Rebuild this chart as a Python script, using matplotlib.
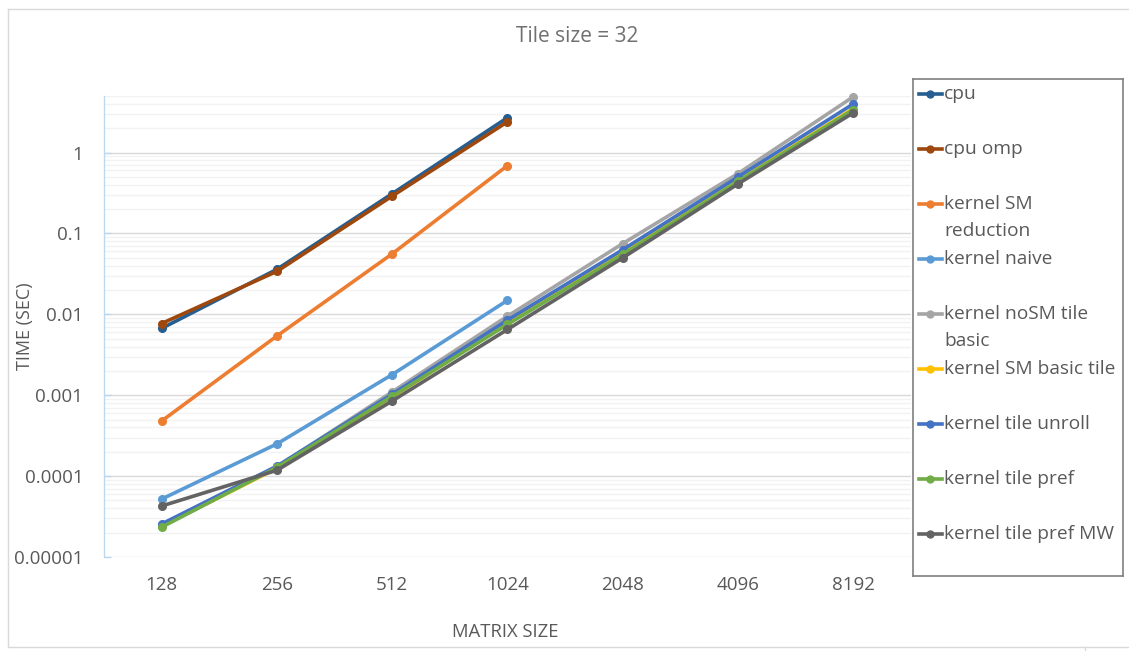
import matplotlib

matplotlib.use("Agg")
import matplotlib.pyplot as plt
from matplotlib.lines import Line2D

plt.rcParams["font.family"] = ["Open Sans", "DejaVu Sans"]

# timings in seconds per matrix size
sizes = ["128", "256", "512", "1024", "2048", "4096", "8192"]

cpu = [0.0067, 0.036, 0.31, 2.7]
cpu_omp = [0.0077, 0.034, 0.29, 2.4]
sm_reduction = [0.00048, 0.0054, 0.056, 0.69]
naive = [0.000052, 0.00025, 0.0018, 0.0149]
nosm_tile_basic = [0.000025, 0.00013, 0.0011, 0.0095, 0.075, 0.55, 4.9]
sm_basic_tile = [0.000024, 0.000125, 0.00095, 0.0078, 0.057, 0.45, 3.5]
tile_unroll = [0.0000256, 0.000133, 0.00103, 0.0085, 0.063, 0.50, 4.0]
tile_pref = [0.0000234, 0.000128, 0.00097, 0.0075, 0.055, 0.44, 3.4]
tile_pref_mw = [0.0000427, 0.000118, 0.00085, 0.0065, 0.050, 0.41, 3.1]

series = [
    ("cpu", cpu, "#255E91"),
    ("cpu omp", cpu_omp, "#9E480E"),
    ("kernel SM\nreduction", sm_reduction, "#ED7D31"),
    ("kernel naive", naive, "#5B9BD5"),
    ("kernel noSM tile\nbasic", nosm_tile_basic, "#A5A5A5"),
    ("kernel SM basic tile", sm_basic_tile, "#FFC000"),
    ("kernel tile unroll", tile_unroll, "#4472C4"),
    ("kernel tile pref", tile_pref, "#70AD47"),
    ("kernel tile pref MW", tile_pref_mw, "#636363"),
]

yticks = [1e-5, 1e-4, 1e-3, 1e-2, 1e-1, 1]
ytick_labels = ["0.00001", "0.0001", "0.001", "0.01", "0.1", "1"]

W, H = 1129, 651
fig = plt.figure(figsize=(W / 100, H / 100), dpi=100)
text_color = "#595959"

ax = fig.add_axes([104 / W, 1 - 557 / H, (911 - 104) / W, (557 - 96) / H])
ax.set_yscale("log")
ax.set_ylim(1e-5, 5.0)
ax.set_xlim(-0.5, len(sizes) - 0.5)

for name, vals, color in series:
    ax.plot(range(len(vals)), vals, color=color, lw=2.6, marker="o",
            markersize=5.5, clip_on=False, zorder=3)

ax.set_xticks(range(len(sizes)))
ax.set_xticklabels(sizes)
ax.set_yticks(yticks)
ax.set_yticklabels(ytick_labels)
ax.tick_params(axis="x", length=0, pad=14, labelsize=13.5, labelcolor=text_color)
ax.tick_params(axis="y", which="major", direction="in", length=5, width=1,
               color="#BDD7EE", pad=15, labelsize=13.5, labelcolor=text_color)
ax.tick_params(axis="y", which="minor", length=0)

ax.grid(True, which="major", axis="y", color="#D9D9D9", lw=1)
ax.grid(True, which="minor", axis="y", color="#F2F2F2", lw=1)
ax.set_axisbelow(True)
for side in ["top", "right", "bottom"]:
    ax.spines[side].set_visible(False)
ax.spines["left"].set_color("#BDD7EE")
ax.spines["left"].set_linewidth(1)

fig.text(25 / W, 1 - 326 / H, "TIME (SEC)", rotation=90, ha="center",
         va="center", fontsize=13, color=text_color)
fig.text(505 / W, 1 - 632 / H, "MATRIX SIZE", ha="center", va="center",
         fontsize=13.3, color=text_color)
fig.text(577 / W, 1 - 36 / H, "Tile size = 32", ha="center", va="center",
         fontsize=15, color="#707070")

# chart area border
border = "#D9D9D9"
fig.add_artist(Line2D([8 / W, 1], [1 - 9 / H, 1 - 9 / H], color=border, lw=1))
fig.add_artist(Line2D([8 / W, 8 / W], [1 - 9 / H, 1 - 647 / H], color=border, lw=1))
fig.add_artist(Line2D([8 / W, 1], [1 - 647 / H, 1 - 647 / H], color=border, lw=1))
fig.add_artist(Line2D([1085 / W, 1085 / W], [1 - 647 / H, 0], color=border, lw=1))

# legend box with evenly spaced slots
lx0, lx1, ly0, ly1 = 913, 1123, 79, 576
lax = fig.add_axes([lx0 / W, 1 - ly1 / H, (lx1 - lx0) / W, (ly1 - ly0) / H])
lax.set_xlim(lx0, lx1)
lax.set_ylim(ly1, ly0)
lax.set_xticks([])
lax.set_yticks([])
for s in lax.spines.values():
    s.set_color("#7F7F7F")
    s.set_linewidth(1.2)
for i, (name, vals, color) in enumerate(series):
    y = 94 + 55 * i
    lax.plot([919, 942], [y, y], color=color, lw=2.6)
    lax.plot([930.5], [y], color=color, marker="o", markersize=5)
    for k, line in enumerate(name.split("\n")):
        lax.text(944, y + 27 * k, line, ha="left", va="center", fontsize=13.8,
                 color=text_color)

fig.savefig("out.png", dpi=100)
